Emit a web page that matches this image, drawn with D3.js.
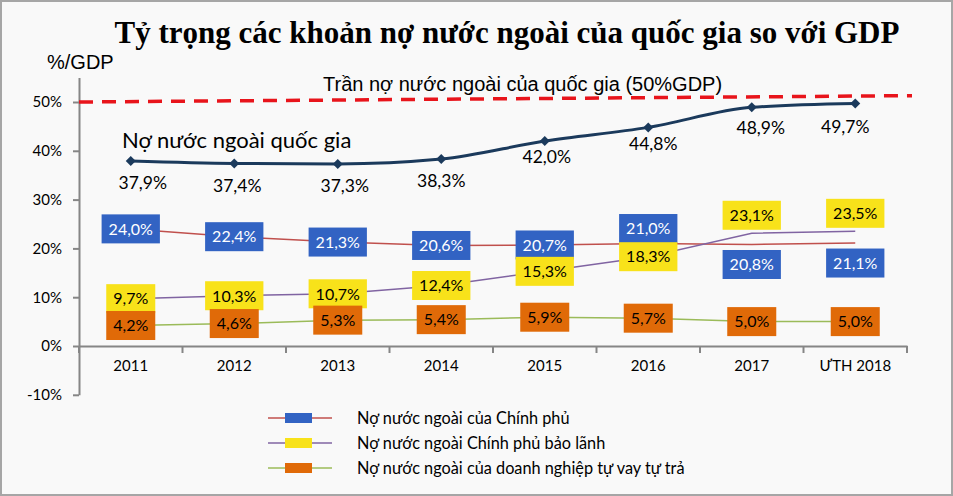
<!DOCTYPE html>
<html lang="vi">
<head>
<meta charset="UTF-8">
<title>Tỷ trọng các khoản nợ nước ngoài</title>
<script src="https://cdn.jsdelivr.net/npm/d3@7"></script>
<style>
    html, body { margin: 0; padding: 0; background: #ffffff; }
    svg { display: block; }
</style>
</head>
<body>
<div id="chart"></div>
<script>
    const categories = ["2011", "2012", "2013", "2014", "2015", "2016", "2017", "ƯTH 2018"]
    const nationalDebt = [37.9, 37.4, 37.3, 38.3, 42.0, 44.8, 48.9, 49.7]
    const govDebt = [24.0, 22.4, 21.3, 20.6, 20.7, 21.0, 20.8, 21.1]
    const guaranteedDebt = [9.7, 10.3, 10.7, 12.4, 15.3, 18.3, 23.1, 23.5]
    const enterpriseDebt = [4.2, 4.6, 5.3, 5.4, 5.9, 5.7, 5.0, 5.0]
    const yTicks = [-10, 0, 10, 20, 30, 40, 50]
    const ceiling = [50, 51.3]

    const legendNames = [
        "Nợ nước ngoài của Chính phủ",
        "Nợ nước ngoài Chính phủ bảo lãnh",
        "Nợ nước ngoài của doanh nghiệp tự vay tự trả"
    ]

    // label nudges so the boxes don't pile on each other
    const nationalLabelDx = [12, 3, 7, 0, 2, 5, 9, -10]
    const nationalLabelDy = [22, 22, 22, 22, 16, 16, 20, 23]
    const govLabelDy = [0, 0, 0, 0, 0, -15, 20, 20]
    const guarLabelDy = [0, 0, 0, 0, 0, 0, -18, -18]

    const width = 953
    const height = 496
    const labelFont = "Lato, 'Open Sans', sans-serif"
    const fmt = (v) => d3.format(".1f")(v).replace(".", ",") + "%"

    const svg = d3.select("#chart").append("svg")
        .attr("width", width)
        .attr("height", height)

    svg.append("rect")
        .attr("x", 1).attr("y", 1)
        .attr("width", width - 2).attr("height", height - 2)
        .attr("fill", "#f9f9f9")
        .attr("stroke", "#a6a6a6")
        .attr("stroke-width", 2)

    const x = d3.scaleBand().domain(categories).range([79, 907])
    const y = d3.scaleLinear().domain([-10, 55]).range([394.8, 77.6])
    const cx = (i) => x(categories[i]) + x.bandwidth() / 2

    // title
    svg.append("text")
        .attr("x", 507).attr("y", 43)
        .attr("text-anchor", "middle")
        .style("font-family", "'Liberation Serif', 'Times New Roman', serif")
        .style("font-weight", "bold")
        .style("font-size", "31px")
        .text("Tỷ trọng các khoản nợ nước ngoài của quốc gia so với GDP")

    svg.append("text")
        .attr("x", 47).attr("y", 69)
        .style("font-family", "'Liberation Sans', Arial, sans-serif")
        .style("font-size", "20px")
        .text("%/GDP")

    // y axis
    const yAxis = svg.append("g")
        .attr("transform", `translate(${x.range()[0]},0)`)
        .call(d3.axisLeft(y).tickValues(yTicks).tickFormat((d) => d + "%").tickSizeInner(6).tickSizeOuter(0))
    yAxis.select(".domain").attr("stroke", "#868686").attr("stroke-width", 2)
    yAxis.selectAll(".tick line").attr("stroke", "#868686").attr("stroke-width", 2)
    yAxis.selectAll(".tick text")
        .attr("x", -17)
        .style("font-family", labelFont)
        .style("font-size", "15px")
        .attr("fill", "#000")

    // x axis on the zero line
    const xAxis = svg.append("g")
        .attr("transform", `translate(0,${y(0)})`)
        .call(d3.axisBottom(x).tickSize(0).tickPadding(14))
    xAxis.select(".domain").attr("stroke", "#868686").attr("stroke-width", 2)
    xAxis.selectAll(".tick text")
        .style("font-family", labelFont)
        .style("font-size", "15px")
        .attr("fill", "#000")

    const bounds = categories.map((c) => x(c)).concat([x.range()[1]])
    svg.append("g").selectAll("line")
        .data(bounds)
        .enter().append("line")
        .attr("x1", (d) => d).attr("x2", (d) => d)
        .attr("y1", y(0)).attr("y2", y(0) + 7)
        .attr("stroke", "#868686")
        .attr("stroke-width", 2)

    // ceiling 50% GDP
    svg.append("line")
        .attr("x1", x.range()[0]).attr("y1", y(ceiling[0]))
        .attr("x2", x.range()[1] + 5).attr("y2", y(ceiling[1]))
        .attr("stroke", "#e8141b")
        .attr("stroke-width", 3.5)
        .attr("stroke-dasharray", "14 9")

    svg.append("text")
        .attr("x", 323).attr("y", 91)
        .style("font-family", "'Liberation Sans', Arial, sans-serif")
        .style("font-size", "20px")
        .text("Trần nợ nước ngoài của quốc gia (50%GDP)")

    // thin series lines
    const series = [
        { values: govDebt, line: "#c0504d", box: "#3263c3", text: "#ffffff", dy: govLabelDy },
        { values: guaranteedDebt, line: "#8064a2", box: "#f8e21a", text: "#000000", dy: guarLabelDy },
        { values: enterpriseDebt, line: "#9bbb59", box: "#e06a08", text: "#000000", dy: enterpriseDebt.map(() => 0) }
    ]

    const thinLine = d3.line().x((d, i) => cx(i)).y((d) => y(d))

    series.forEach((s) => {
        svg.append("path")
            .attr("d", thinLine(s.values))
            .attr("fill", "none")
            .attr("stroke", s.line)
            .attr("stroke-width", 1.5)
    })

    series.forEach((s) => {
        const g = svg.append("g").selectAll("g")
            .data(s.values)
            .enter().append("g")
            .attr("transform", (d, i) => `translate(${cx(i)},${y(d) + s.dy[i]})`)

        const texts = g.append("text")
            .attr("text-anchor", "middle")
            .attr("dy", "0.36em")
            .style("font-family", labelFont)
            .style("font-size", "16px")
            .attr("fill", s.text)
            .text((d) => fmt(d))

        texts.each(function () {
            const w = this.getComputedTextLength() + 14
            d3.select(this.parentNode).insert("rect", "text")
                .attr("x", -w / 2).attr("y", -14.5)
                .attr("width", w).attr("height", 29)
                .attr("fill", s.box)
        })
    })

    // national debt
    svg.append("path")
        .attr("d", d3.line().x((d, i) => cx(i)).y((d) => y(d)).curve(d3.curveMonotoneX)(nationalDebt))
        .attr("fill", "none")
        .attr("stroke", "#1b3a5c")
        .attr("stroke-width", 3)

    svg.append("g").selectAll("path")
        .data(nationalDebt)
        .enter().append("path")
        .attr("d", d3.symbol(d3.symbolSquare, 50))
        .attr("transform", (d, i) => `translate(${cx(i)},${y(d)}) rotate(45)`)
        .attr("fill", "#1b3a5c")

    svg.append("g").selectAll("text")
        .data(nationalDebt)
        .enter().append("text")
        .attr("x", (d, i) => cx(i) + nationalLabelDx[i])
        .attr("y", (d, i) => y(d) + nationalLabelDy[i])
        .attr("dy", "0.36em")
        .attr("text-anchor", "middle")
        .style("font-family", labelFont)
        .style("font-size", "17.5px")
        .text((d) => fmt(d))

    svg.append("text")
        .attr("x", 122).attr("y", 148)
        .style("font-family", labelFont)
        .style("font-size", "22px")
        .text("Nợ nước ngoài quốc gia")

    // legend
    const legend = svg.append("g").selectAll("g")
        .data(series)
        .enter().append("g")
        .attr("transform", (d, i) => `translate(268,${418 + i * 25})`)

    legend.append("line")
        .attr("x1", 0).attr("x2", 64)
        .attr("stroke", (d) => d.line)
        .attr("stroke-width", 1.5)
    legend.append("rect")
        .attr("x", 17).attr("y", -5)
        .attr("width", 27).attr("height", 10)
        .attr("fill", (d) => d.box)
    legend.append("text")
        .attr("x", 89)
        .attr("dy", "0.36em")
        .style("font-family", labelFont)
        .style("font-size", "16.3px")
        .text((d, i) => legendNames[i])
</script>
</body>
</html>
